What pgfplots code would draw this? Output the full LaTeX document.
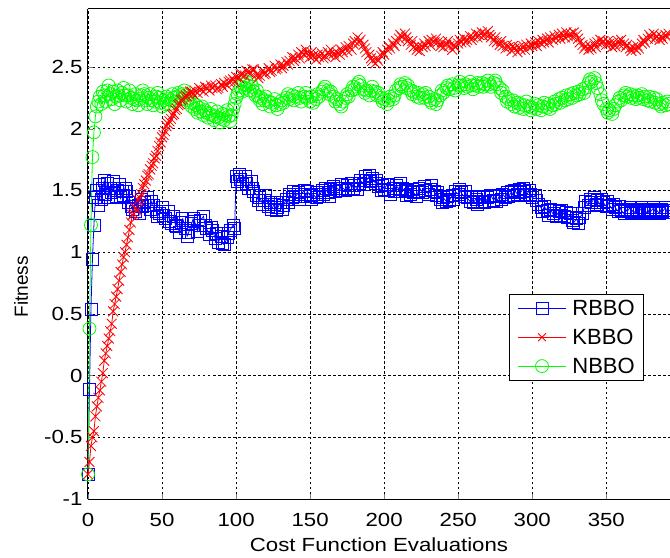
\documentclass[border=0pt]{standalone}
\usepackage{fontspec}
\setmainfont{Liberation Sans}
\newfontfamily\widefont{Liberation Sans}[FakeStretch=1.17]
\usepackage{pgfplots}
\usepackage{pgfplotstable}
\pgfplotsset{compat=1.18}

\pgfplotstableread{
x y
0 -0.80
1 -0.11
2 0.54
3 0.94
4 1.22
5 1.44
6 1.50
7 1.38
8 1.55
9 1.43
10 1.52
11 1.58
12 1.47
13 1.56
14 1.44
15 1.52
16 1.48
17 1.57
18 1.52
19 1.45
20 1.50
21 1.55
22 1.44
23 1.49
24 1.46
25 1.52
26 1.49
27 1.40
28 1.45
29 1.37
30 1.35
32 1.33
34 1.38
35 1.31
36 1.43
37 1.37
38 1.40
40 1.44
41 1.38
42 1.35
43 1.41
44 1.38
46 1.33
47 1.29
48 1.31
50 1.36
51 1.30
52 1.27
54 1.33
55 1.25
56 1.23
58 1.29
59 1.22
60 1.21
62 1.16
63 1.24
64 1.27
66 1.19
67 1.13
68 1.16
70 1.23
71 1.27
72 1.25
74 1.17
75 1.22
76 1.26
78 1.29
79 1.22
80 1.19
82 1.14
83 1.20
84 1.18
86 1.11
87 1.15
88 1.08
90 1.13
91 1.07
92 1.06
94 1.12
95 1.15
96 1.18
98 1.22
99 1.19
100 1.61
101 1.57
102 1.63
103 1.59
104 1.55
106 1.61
107 1.56
108 1.52
110 1.57
111 1.52
112 1.49
114 1.46
115 1.42
116 1.44
118 1.39
119 1.42
120 1.46
122 1.37
123 1.40
124 1.35
126 1.39
127 1.34
128 1.36
130 1.40
131 1.35
132 1.38
134 1.43
135 1.40
136 1.47
138 1.44
139 1.49
140 1.45
142 1.48
143 1.43
144 1.47
146 1.50
147 1.45
148 1.49
150 1.46
151 1.43
152 1.47
154 1.44
155 1.48
156 1.45
158 1.50
159 1.47
160 1.52
162 1.48
163 1.45
164 1.51
166 1.53
167 1.49
168 1.52
170 1.50
171 1.55
172 1.52
174 1.50
175 1.54
176 1.51
178 1.56
179 1.52
180 1.54
182 1.51
183 1.56
184 1.58
186 1.55
187 1.61
188 1.58
190 1.62
191 1.57
192 1.60
194 1.56
195 1.58
196 1.53
198 1.50
199 1.54
200 1.51
202 1.55
203 1.50
204 1.47
206 1.52
207 1.49
208 1.54
210 1.51
211 1.56
212 1.52
214 1.49
215 1.46
216 1.50
218 1.47
219 1.51
220 1.48
222 1.45
223 1.49
224 1.52
226 1.48
227 1.53
228 1.50
230 1.47
231 1.51
232 1.54
234 1.49
235 1.46
236 1.48
238 1.43
239 1.40
240 1.44
242 1.41
243 1.45
244 1.42
246 1.46
247 1.43
248 1.49
250 1.47
251 1.51
252 1.48
254 1.45
255 1.49
256 1.44
258 1.41
259 1.45
260 1.40
262 1.43
263 1.39
264 1.44
266 1.41
267 1.45
268 1.40
270 1.44
271 1.41
272 1.46
274 1.42
275 1.45
276 1.41
278 1.46
279 1.43
280 1.47
282 1.44
283 1.48
284 1.45
286 1.49
287 1.46
288 1.50
290 1.47
291 1.51
292 1.48
294 1.52
295 1.49
296 1.46
298 1.50
299 1.47
300 1.44
302 1.46
303 1.42
304 1.39
306 1.36
307 1.33
308 1.37
310 1.34
311 1.30
312 1.35
314 1.31
315 1.34
316 1.29
318 1.33
319 1.30
320 1.34
322 1.29
323 1.32
324 1.28
326 1.31
327 1.26
328 1.24
330 1.27
331 1.23
332 1.28
334 1.31
335 1.36
336 1.41
338 1.38
339 1.43
340 1.40
342 1.44
343 1.39
344 1.42
346 1.38
347 1.43
348 1.40
350 1.37
351 1.41
352 1.38
354 1.35
355 1.39
356 1.36
358 1.33
359 1.37
360 1.34
362 1.31
363 1.35
364 1.33
366 1.36
367 1.32
368 1.34
370 1.31
371 1.35
372 1.33
374 1.36
375 1.32
376 1.34
378 1.31
379 1.35
380 1.33
382 1.36
383 1.32
384 1.34
386 1.31
387 1.35
388 1.33
390 1.36
391 1.32
392 1.34
394 1.33
}\rbbo

\pgfplotstableread{
x y
0 -0.80
1 -0.70
2 -0.57
3 -0.50
4 -0.45
5 -0.33
6 -0.25
7 -0.18
8 -0.12
9 -0.05
10 0.02
11 0.12
12 0.18
13 0.24
14 0.30
15 0.36
16 0.42
17 0.52
18 0.58
19 0.64
20 0.70
21 0.77
22 0.84
23 0.90
24 0.96
25 1.00
26 1.06
27 1.12
28 1.18
29 1.24
30 1.30
31 1.31
32 1.36
33 1.34
34 1.42
35 1.44
36 1.47
37 1.52
38 1.55
39 1.58
40 1.62
41 1.63
42 1.67
43 1.70
44 1.72
45 1.76
46 1.78
47 1.82
48 1.86
49 1.89
50 1.93
51 1.95
52 1.98
53 2.02
54 2.04
55 2.06
56 2.08
57 2.11
58 2.12
59 2.15
60 2.16
61 2.19
62 2.20
63 2.23
64 2.24
65 2.26
66 2.27
67 2.26
68 2.28
69 2.30
70 2.30
71 2.28
72 2.31
74 2.29
75 2.33
76 2.32
78 2.30
79 2.34
80 2.33
82 2.31
83 2.35
84 2.33
86 2.35
87 2.32
88 2.33
90 2.36
91 2.34
92 2.37
94 2.35
95 2.38
96 2.39
98 2.40
99 2.38
100 2.42
102 2.41
103 2.44
104 2.44
106 2.43
107 2.47
108 2.46
110 2.45
111 2.48
112 2.48
114 2.44
115 2.41
116 2.43
118 2.47
119 2.44
120 2.45
122 2.49
123 2.46
124 2.47
126 2.51
127 2.48
128 2.49
130 2.52
131 2.49
132 2.51
134 2.54
135 2.52
136 2.55
138 2.58
139 2.55
140 2.57
142 2.60
143 2.57
144 2.62
146 2.60
147 2.64
148 2.61
150 2.58
151 2.62
152 2.59
154 2.56
155 2.60
156 2.58
158 2.61
159 2.57
160 2.59
162 2.62
163 2.60
164 2.64
166 2.61
167 2.58
168 2.62
170 2.60
171 2.64
172 2.62
174 2.66
175 2.63
176 2.67
178 2.64
179 2.69
180 2.71
182 2.74
183 2.70
184 2.72
186 2.68
187 2.65
188 2.62
190 2.60
191 2.57
192 2.55
194 2.53
195 2.57
196 2.55
198 2.59
199 2.62
200 2.60
202 2.64
203 2.67
204 2.65
206 2.69
207 2.67
208 2.71
210 2.73
211 2.76
212 2.74
214 2.77
215 2.74
216 2.71
218 2.68
219 2.71
220 2.66
222 2.64
223 2.67
224 2.63
226 2.66
227 2.69
228 2.67
230 2.71
231 2.68
232 2.72
234 2.70
235 2.73
236 2.70
238 2.67
239 2.70
240 2.66
242 2.68
243 2.71
244 2.67
246 2.64
247 2.68
248 2.66
250 2.69
251 2.72
252 2.70
254 2.73
255 2.70
256 2.72
258 2.75
259 2.72
260 2.74
262 2.77
263 2.74
264 2.76
266 2.78
267 2.75
268 2.77
270 2.79
271 2.76
272 2.74
274 2.71
275 2.74
276 2.70
278 2.68
279 2.71
280 2.67
282 2.65
283 2.68
284 2.66
286 2.63
287 2.67
288 2.65
290 2.62
291 2.66
292 2.64
294 2.67
295 2.64
296 2.68
298 2.66
299 2.69
300 2.67
302 2.70
303 2.67
304 2.71
306 2.69
307 2.72
308 2.70
310 2.73
311 2.70
312 2.74
314 2.72
315 2.75
316 2.73
318 2.76
319 2.73
320 2.77
322 2.74
323 2.78
324 2.75
326 2.77
327 2.74
328 2.78
330 2.76
331 2.73
332 2.70
334 2.68
335 2.65
336 2.67
338 2.64
339 2.67
340 2.65
342 2.69
343 2.66
344 2.70
346 2.72
347 2.69
348 2.71
350 2.68
351 2.71
352 2.69
354 2.66
355 2.70
356 2.67
358 2.71
359 2.68
360 2.72
362 2.69
363 2.66
364 2.68
366 2.65
367 2.63
368 2.66
370 2.64
371 2.67
372 2.65
374 2.69
375 2.72
376 2.70
378 2.73
379 2.76
380 2.74
382 2.77
383 2.73
384 2.75
386 2.72
387 2.75
388 2.73
390 2.76
391 2.74
392 2.77
394 2.75
}\kbbo

\pgfplotstableread{
x y
0 -0.80
1 0.38
2 1.22
3 1.77
4 1.97
5 2.10
6 2.18
7 2.22
8 2.26
9 2.20
10 2.30
11 2.27
12 2.22
13 2.31
14 2.35
15 2.28
16 2.24
17 2.30
18 2.20
19 2.26
20 2.31
21 2.27
22 2.23
23 2.29
24 2.33
25 2.27
26 2.22
27 2.27
28 2.31
29 2.25
30 2.20
31 2.24
32 2.28
33 2.23
34 2.19
35 2.24
36 2.27
37 2.31
38 2.28
39 2.23
40 2.20
41 2.25
42 2.28
43 2.23
44 2.19
45 2.22
46 2.26
47 2.29
48 2.25
49 2.21
50 2.18
51 2.23
52 2.20
53 2.26
54 2.24
55 2.20
56 2.23
57 2.28
58 2.25
59 2.22
60 2.26
61 2.29
62 2.27
63 2.24
64 2.28
65 2.31
66 2.27
67 2.23
68 2.25
69 2.21
70 2.18
71 2.21
72 2.16
73 2.19
74 2.13
75 2.17
76 2.14
77 2.18
78 2.11
79 2.15
80 2.13
81 2.09
82 2.12
83 2.16
84 2.11
85 2.07
86 2.10
87 2.14
88 2.09
89 2.05
90 2.08
91 2.12
92 2.07
93 2.11
94 2.15
95 2.10
96 2.06
97 2.11
98 2.16
99 2.20
100 2.25
101 2.28
102 2.31
103 2.34
104 2.30
105 2.36
106 2.33
107 2.38
108 2.35
109 2.31
110 2.37
111 2.34
112 2.30
113 2.27
114 2.31
115 2.26
116 2.23
117 2.25
118 2.20
119 2.23
120 2.26
122 2.22
123 2.18
124 2.21
126 2.24
127 2.19
128 2.16
130 2.20
131 2.23
132 2.21
134 2.25
135 2.28
136 2.24
138 2.27
139 2.23
140 2.26
142 2.29
143 2.25
144 2.22
146 2.26
147 2.29
148 2.25
150 2.22
151 2.26
152 2.21
154 2.24
155 2.28
156 2.26
158 2.30
159 2.32
160 2.34
162 2.31
163 2.28
164 2.30
166 2.26
167 2.22
168 2.24
170 2.20
171 2.18
172 2.22
174 2.25
175 2.28
176 2.26
178 2.31
179 2.34
180 2.32
182 2.36
183 2.38
184 2.35
186 2.32
187 2.29
188 2.31
190 2.27
191 2.31
192 2.34
194 2.30
195 2.27
196 2.29
198 2.25
199 2.22
200 2.24
202 2.20
203 2.23
204 2.26
206 2.24
207 2.27
208 2.31
210 2.33
211 2.36
212 2.34
214 2.37
215 2.33
216 2.35
218 2.31
219 2.28
220 2.30
222 2.26
223 2.29
224 2.25
226 2.28
227 2.25
228 2.29
230 2.26
231 2.23
232 2.21
234 2.24
235 2.20
236 2.23
238 2.27
239 2.31
240 2.29
242 2.33
243 2.35
244 2.32
246 2.36
247 2.33
248 2.31
250 2.35
251 2.38
252 2.35
254 2.33
255 2.36
256 2.34
258 2.38
259 2.35
260 2.32
262 2.35
263 2.37
264 2.34
266 2.37
267 2.34
268 2.36
270 2.39
271 2.36
272 2.34
274 2.37
275 2.39
276 2.36
278 2.33
279 2.29
280 2.31
282 2.26
283 2.22
284 2.24
286 2.20
287 2.23
288 2.18
290 2.21
291 2.17
292 2.20
294 2.16
295 2.19
296 2.22
298 2.18
299 2.15
300 2.17
302 2.20
303 2.16
304 2.19
306 2.15
307 2.18
308 2.21
310 2.17
311 2.20
312 2.16
314 2.19
315 2.22
316 2.20
318 2.24
319 2.21
320 2.25
322 2.23
323 2.27
324 2.24
326 2.28
327 2.25
328 2.29
330 2.27
331 2.30
332 2.28
334 2.32
335 2.29
336 2.33
338 2.37
339 2.40
340 2.38
342 2.41
343 2.37
344 2.33
346 2.28
347 2.23
348 2.20
350 2.16
351 2.13
352 2.15
354 2.12
355 2.16
356 2.19
358 2.22
359 2.25
360 2.23
362 2.27
363 2.29
364 2.26
366 2.28
367 2.25
368 2.27
370 2.24
371 2.27
372 2.25
374 2.28
375 2.24
376 2.26
378 2.23
379 2.26
380 2.22
382 2.25
383 2.21
384 2.24
386 2.20
387 2.18
388 2.21
390 2.19
391 2.22
392 2.20
394 2.21
}\nbbo

\begin{document}
\begin{tikzpicture}
\begin{axis}[
    scale only axis,
    width=582bp, height=490bp,
    xmin=0, xmax=393,
    ymin=-1, ymax=2.97,
    axis y line*=left,
    xtick={0,50,...,350},
    ytick={-1,-0.5,...,2.5},
    tick align=inside,
    major tick length=5bp,
    xtick pos=bottom,
    grid=major,
    grid style={black, line width=0.7bp, dash pattern=on 2.5bp off 2.5bp},
    axis line style={black, line width=1bp},
    /pgf/number format/assume math mode=true,
    tick label style={font=\widefont\fontsize{19bp}{22bp}\selectfont},
    yticklabel style={xshift=-2bp},
    xticklabel style={yshift=-11bp},
    xlabel={\widefont Cost Function Evaluations},
    ylabel={Fitness},
    label style={font=\fontsize{19bp}{22bp}\selectfont},
    xlabel style={at={(axis description cs:0.5,-0.094)}, anchor=center},
    ylabel style={at={(axis description cs:-0.115,0.433)}, anchor=center},
    legend style={at={(0.955,0.241)}, anchor=south east,
        font=\fontsize{22bp}{25bp}\selectfont, draw=black, line width=0.8bp,
        row sep=8bp, column sep=5bp, inner xsep=8bp, inner ysep=4bp,
        nodes={inner xsep=1bp, text width=62bp, align=left}},
    legend cell align=left,
    legend image code/.code={
        \draw[mark repeat=2, mark phase=2] plot coordinates {(0bp,0bp) (24bp,0bp) (48bp,0bp)};},
]
\addplot[blue, line width=0.8bp, mark=square, mark size=6bp, forget plot] table {\rbbo};
\addplot[green, line width=0.8bp, mark=o, mark size=6.5bp, forget plot] table {\nbbo};
\addplot[red, line width=0.8bp, mark=x, mark size=7bp, forget plot] table {\kbbo};
\addlegendimage{blue, line width=0.8bp, mark=square, mark size=6bp}
\addlegendentry{RBBO}
\addlegendimage{red, line width=0.8bp, mark=x, mark size=5.5bp}
\addlegendentry{KBBO}
\addlegendimage{green, line width=0.8bp, mark=o, mark size=6.5bp}
\addlegendentry{NBBO}
\end{axis}
\pgfresetboundingbox
\path[use as bounding box] ([xshift=-88bp,yshift=-59bp]current axis.south west) rectangle ([yshift=9bp]current axis.north east);
\end{tikzpicture}
\end{document}
